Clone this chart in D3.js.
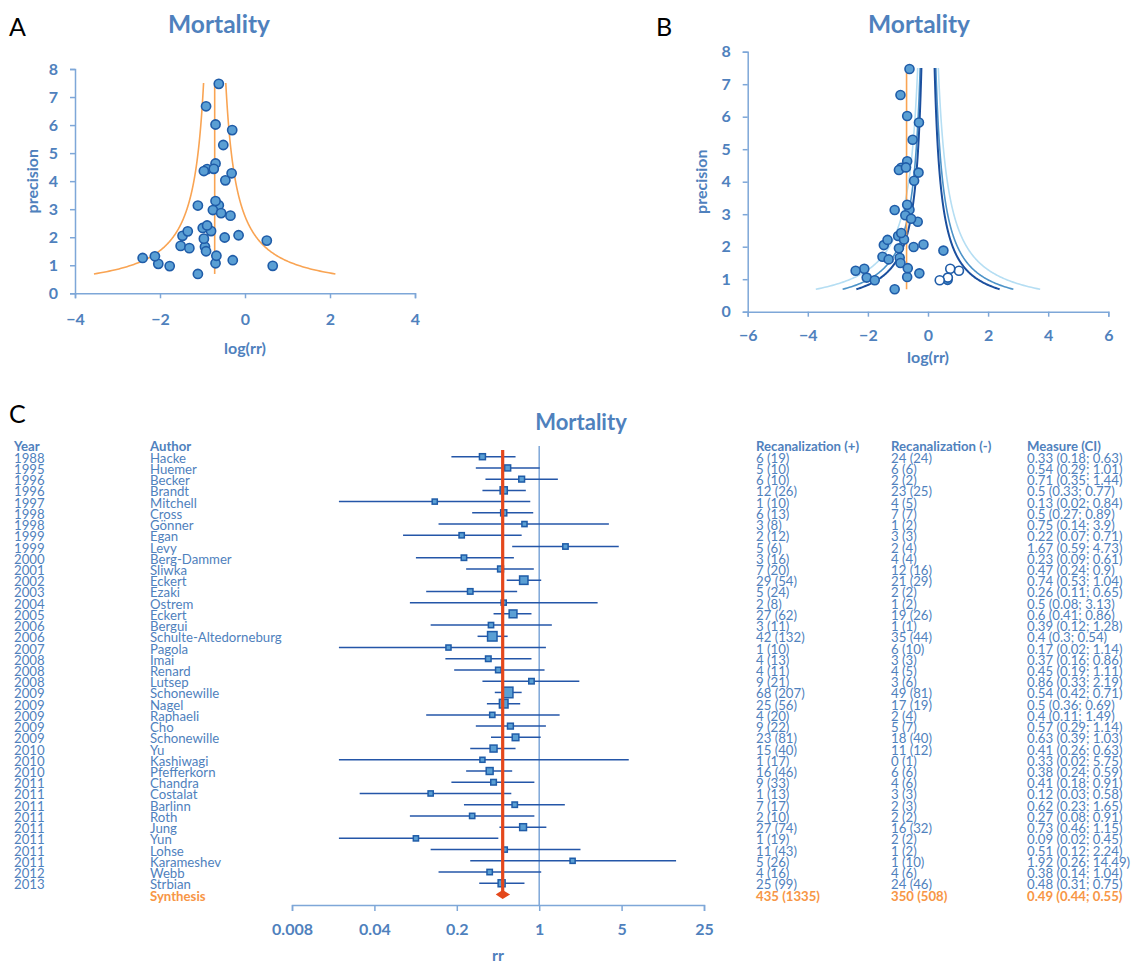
<!DOCTYPE html>
<html>
<head>
<meta charset="utf-8">
<title>Mortality</title>
<script src="https://d3js.org/d3.v7.min.js"></script>
<style>
    body { margin: 0; background: #fff; }
    text { font-family: Lato, "Open Sans", sans-serif; }
</style>
</head>
<body>
<svg id="chart" width="1131" height="964"></svg>
<script>
    // ---- data (forest plot rows, oldest first) ----
    var years = [1988, 1995, 1996, 1996, 1997, 1998, 1998, 1999, 1999, 2000, 2001, 2002, 2003, 2004, 2005, 2006, 2006,
        2007, 2008, 2008, 2008, 2009, 2009, 2009, 2009, 2009, 2010, 2010, 2010, 2011, 2011, 2011, 2011, 2011, 2011,
        2011, 2011, 2012, 2013];
    var authors = ["Hacke", "Huemer", "Becker", "Brandt", "Mitchell", "Cross", "Gönner", "Egan", "Levy", "Berg-Dammer",
        "Sliwka", "Eckert", "Ezaki", "Ostrem", "Eckert", "Bergui", "Schulte-Altedorneburg", "Pagola", "Imai", "Renard",
        "Lutsep", "Schonewille", "Nagel", "Raphaeli", "Cho", "Schonewille", "Yu", "Kashiwagi", "Pfefferkorn", "Chandra",
        "Costalat", "Barlinn", "Roth", "Jung", "Yun", "Lohse", "Karameshev", "Webb", "Strbian"];
    var posEvents = [6, 5, 6, 12, 1, 6, 3, 2, 5, 3, 7, 29, 5, 2, 27, 3, 42, 1, 4, 4, 9, 68, 25, 4, 9, 23, 15, 1, 16, 9, 1, 7, 2, 27, 1, 11, 5, 4, 25];
    var posTotal = [19, 10, 10, 26, 10, 13, 8, 12, 6, 16, 20, 54, 24, 8, 62, 11, 132, 10, 13, 11, 21, 207, 56, 20, 22, 81, 40, 17, 46, 33, 13, 17, 10, 74, 19, 43, 26, 16, 99];
    var negEvents = [24, 6, 2, 23, 4, 7, 1, 3, 2, 4, 12, 21, 2, 1, 19, 1, 35, 6, 3, 4, 3, 49, 17, 2, 5, 18, 11, 0, 6, 4, 3, 2, 2, 16, 2, 1, 1, 4, 24];
    var negTotal = [24, 6, 2, 25, 5, 7, 2, 3, 4, 4, 16, 29, 2, 2, 26, 1, 44, 10, 3, 5, 6, 81, 19, 4, 7, 40, 12, 1, 6, 6, 3, 3, 2, 32, 2, 2, 10, 6, 46];
    var rr = [0.33, 0.54, 0.71, 0.5, 0.13, 0.5, 0.75, 0.22, 1.67, 0.23, 0.47, 0.74, 0.26, 0.5, 0.6, 0.39, 0.4, 0.17, 0.37, 0.45,
        0.86, 0.54, 0.5, 0.4, 0.57, 0.63, 0.41, 0.33, 0.38, 0.41, 0.12, 0.62, 0.27, 0.73, 0.09, 0.51, 1.92, 0.38, 0.48];
    var rrLow = [0.18, 0.29, 0.35, 0.33, 0.02, 0.27, 0.14, 0.07, 0.59, 0.09, 0.24, 0.53, 0.11, 0.08, 0.41, 0.12, 0.3, 0.02, 0.16, 0.19,
        0.33, 0.42, 0.36, 0.11, 0.29, 0.39, 0.26, 0.02, 0.24, 0.18, 0.03, 0.23, 0.08, 0.46, 0.02, 0.12, 0.26, 0.14, 0.31];
    var rrHigh = [0.63, 1.01, 1.44, 0.77, 0.84, 0.89, 3.9, 0.71, 4.73, 0.61, 0.9, 1.04, 0.65, 3.13, 0.86, 1.28, 0.54, 1.14, 0.86, 1.11,
        2.19, 0.71, 0.69, 1.49, 1.14, 1.03, 0.63, 5.75, 0.59, 0.91, 0.58, 1.65, 0.91, 1.15, 0.45, 2.24, 14.49, 1.04, 0.75];
    // precision (1/SE of log rr), also used as study weight
    var precision = [3.13, 3.14, 2.77, 4.63, 1.05, 3.29, 1.18, 1.69, 1.88, 2.05, 2.97, 5.82, 2.21, 1.07, 5.29, 1.66, 6.67, 0.97,
        2.33, 2.22, 2.07, 7.47, 6.02, 1.50, 2.86, 4.03, 4.43, 0.69, 4.36, 2.42, 1.32, 1.99, 1.61, 4.28, 1.26, 1.34, 0.98, 1.95, 4.44];

    // synthesis
    var synthRR = 0.49, synthLow = 0.44, synthHigh = 0.55;
    var synthPos = "435 (1335)", synthNeg = "350 (508)";

    // trim and fill: imputed studies (panel B open circles)
    var filledLogRR = [1.03, 0.74, 0.66, 0.39];
    var filledPrecision = [1.26, 1.32, 1.05, 0.97];

    // funnel contours for panel B (z values: 99%, 95%, 90%)
    var contourZ = [2.576, 1.96, 1.645];
    var contourColor = ["#b5def3", "#4d93c8", "#1b4f9e"];

    var xTicksA = [-4, -2, 0, 2, 4];
    var xTicksB = [-6, -4, -2, 0, 2, 4, 6];
    var yTicks = [0, 1, 2, 3, 4, 5, 6, 7, 8];
    var rrTicks = [0.008, 0.04, 0.2, 1, 5, 25];

    var blue = "#4f81bd", axisBlue = "#7ea7d8", dotFill = "#5a9fd4", dotStroke = "#1f5ca8", orange = "#f79646";

    var svg = d3.select("#chart");

    function styleAxis(g) {
        g.select(".domain").attr("stroke", axisBlue).attr("stroke-width", 1.5);
        g.selectAll(".tick line").attr("stroke", axisBlue).attr("stroke-width", 1.5);
        g.selectAll(".tick text").attr("fill", blue).attr("font-size", "16px").attr("font-weight", "bold")
            .attr("font-family", "Lato, sans-serif");
    }

    function panelLetter(txt, x, y) {
        svg.append("text").attr("x", x).attr("y", y).attr("font-size", "25px").attr("fill", "#000").text(txt);
    }

    function title(x, y, size) {
        svg.append("text").attr("x", x).attr("y", y).attr("text-anchor", "middle").attr("font-size", size)
            .attr("font-weight", "bold").attr("fill", blue).text("Mortality");
    }

    function funnelPlot(xScale, yScale, xTicks, xLabelY, yLabelX, labelPad) {
        var gx = svg.append("g").attr("transform", "translate(0," + yScale(0) + ")")
            .call(d3.axisBottom(xScale).tickValues(xTicks).tickSizeOuter(0).tickSize(5).tickPadding(labelPad[0]));
        styleAxis(gx);
        var gy = svg.append("g").attr("transform", "translate(" + xScale.range()[0] + ",0)")
            .call(d3.axisLeft(yScale).tickValues(yTicks).tickSizeOuter(0).tickSize(5).tickPadding(labelPad[1]));
        styleAxis(gy);

        svg.append("text").attr("x", d3.mean(xScale.range())).attr("y", xLabelY).attr("text-anchor", "middle")
            .attr("font-size", "16px").attr("font-weight", "bold").attr("fill", blue).text("log(rr)");
        var cy = d3.mean(yScale.range());
        svg.append("text").attr("transform", "translate(" + yLabelX + "," + cy + ") rotate(-90)")
            .attr("text-anchor", "middle").attr("font-size", "16px").attr("font-weight", "bold")
            .attr("fill", blue).text("precision");
    }

    function dots(xScale, yScale, r) {
        svg.append("g").selectAll("circle").data(rr).enter().append("circle")
            .attr("cx", function (d) { return xScale(Math.log(d)); })
            .attr("cy", function (d, i) { return yScale(precision[i]); })
            .attr("r", r)
            .attr("fill", dotFill).attr("stroke", dotStroke).attr("stroke-width", 1.6);
    }

    var precRange = d3.extent(precision);
    var precSteps = d3.range(precRange[0], 7.5, 0.02).concat([7.5]);
    var center = Math.log(synthRR);

    // ---------------- Panel A ----------------
    var xA = d3.scaleLinear().domain([-4, 4]).range([75, 415]);
    var yA = d3.scaleLinear().domain([0, 8]).range([293.3, 69]);
    panelLetter("A", 9, 36);
    title(219, 33, "24.5px");
    funnelPlot(xA, yA, xTicksA, 354, 38, [15, 12]);

    [-1, 1].forEach(function (s) {
        svg.append("path").datum(precSteps)
            .attr("d", d3.line()
                .x(function (p) { return xA(center + s * 1.96 / p); })
                .y(function (p) { return yA(p); }))
            .attr("fill", "none").attr("stroke", "#f9a453").attr("stroke-width", 1.6);
    });
    svg.append("line").attr("x1", xA(center)).attr("x2", xA(center))
        .attr("y1", yA(precRange[0])).attr("y2", yA(7.5))
        .attr("stroke", "#f9a453").attr("stroke-width", 1.6);
    dots(xA, yA, 4.6);

    // ---------------- Panel B ----------------
    var xB = d3.scaleLinear().domain([-6, 6]).range([747.7, 1108.3]);
    var yB = d3.scaleLinear().domain([0, 8]).range([311.7, 51.7]);
    panelLetter("B", 656, 36);
    title(919, 33, "24.5px");
    funnelPlot(xB, yB, xTicksB, 363, 707, [13, 12]);

    contourZ.forEach(function (z, k) {
        [-1, 1].forEach(function (s) {
            svg.append("path").datum(precSteps)
                .attr("d", d3.line()
                    .x(function (p) { return xB(s * z / p); })
                    .y(function (p) { return yB(p); }))
                .attr("fill", "none").attr("stroke", contourColor[k]).attr("stroke-width", k == 2 ? 2 : 1.6);
        });
    });
    svg.append("line").attr("x1", xB(center)).attr("x2", xB(center))
        .attr("y1", yB(precRange[0])).attr("y2", yB(7.5))
        .attr("stroke", "#f9a453").attr("stroke-width", 1.6);
    dots(xB, yB, 4.5);
    svg.append("g").selectAll("circle").data(filledLogRR).enter().append("circle")
        .attr("cx", function (d) { return xB(d); })
        .attr("cy", function (d, i) { return yB(filledPrecision[i]); })
        .attr("r", 4.5)
        .attr("fill", "#fff").attr("stroke", dotStroke).attr("stroke-width", 1.6);

    // ---------------- Panel C (forest) ----------------
    panelLetter("C", 9, 423);
    title(581, 430, "22px");

    var xC = d3.scaleLog().base(5).domain([0.008, 25]).range([292, 704]);
    var nRows = rr.length;
    var yC = d3.scaleLinear().domain([0, nRows]).range([456.7, 894.5]);
    var boxSize = d3.scaleLinear().domain([0, 56]).range([5, 10.6]);

    var gAxis = svg.append("g").attr("transform", "translate(0,905)")
        .call(d3.axisBottom(xC).tickValues(rrTicks).tickFormat(function (d) { return String(d); })
            .tickSizeOuter(0).tickSize(6).tickPadding(13));
    styleAxis(gAxis);
    svg.append("text").attr("x", d3.mean(xC.range())).attr("y", 961).attr("text-anchor", "middle")
        .attr("font-size", "16px").attr("font-weight", "bold").attr("fill", blue).text("rr");

    // no-effect line
    svg.append("line").attr("x1", xC(1)).attr("x2", xC(1)).attr("y1", 446).attr("y2", 905)
        .attr("stroke", axisBlue).attr("stroke-width", 1.5);

    // confidence intervals
    var rows = svg.append("g");
    rows.selectAll("line.ci").data(rr).enter().append("line").attr("class", "ci")
        .attr("x1", function (d, i) { return xC(rrLow[i]); })
        .attr("x2", function (d, i) { return xC(rrHigh[i]); })
        .attr("y1", function (d, i) { return yC(i); })
        .attr("y2", function (d, i) { return yC(i); })
        .attr("stroke", "#2456a8").attr("stroke-width", 1.5);

    // pooled estimate line
    svg.append("line").attr("x1", xC(synthRR)).attr("x2", xC(synthRR)).attr("y1", 450).attr("y2", yC(nRows))
        .attr("stroke", "#e4481c").attr("stroke-width", 3.2);

    // study boxes
    rows.selectAll("rect.box").data(rr).enter().append("rect").attr("class", "box")
        .attr("x", function (d, i) { return xC(d) - boxSize(precision[i] * precision[i]) / 2; })
        .attr("y", function (d, i) { return yC(i) - boxSize(precision[i] * precision[i]) / 2; })
        .attr("width", function (d, i) { return boxSize(precision[i] * precision[i]); })
        .attr("height", function (d, i) { return boxSize(precision[i] * precision[i]); })
        .attr("fill", dotFill).attr("stroke", dotStroke).attr("stroke-width", 1.5);

    // synthesis diamond
    var ys = yC(nRows);
    svg.append("path")
        .attr("d", "M" + xC(synthLow) + "," + ys + "L" + xC(synthRR) + "," + (ys - 3.5) + "L" + xC(synthHigh) + "," + ys +
            "L" + xC(synthRR) + "," + (ys + 3.5) + "Z")
        .attr("fill", "#e4481c").attr("stroke", "#e4481c").attr("stroke-width", 1.5);

    // table text
    var colX = [14, 150, 756, 891, 1027];
    var headers = ["Year", "Author", "Recanalization (+)", "Recanalization (-)", "Measure (CI)"];
    var fontSize = "13.2px";
    headers.forEach(function (h, j) {
        svg.append("text").attr("x", colX[j]).attr("y", yC(-1) + 6).attr("font-size", fontSize)
            .attr("font-weight", "bold").attr("fill", blue).text(h);
    });
    var cells = [
        function (i) { return String(years[i]); },
        function (i) { return authors[i]; },
        function (i) { return posEvents[i] + " (" + posTotal[i] + ")"; },
        function (i) { return negEvents[i] + " (" + negTotal[i] + ")"; },
        function (i) { return rr[i] + " (" + rrLow[i] + "; " + rrHigh[i] + ")"; }
    ];
    cells.forEach(function (f, j) {
        svg.append("g").selectAll("text").data(rr).enter().append("text")
            .attr("x", colX[j]).attr("y", function (d, i) { return yC(i) + 6; })
            .attr("font-size", fontSize).attr("fill", blue)
            .text(function (d, i) { return f(i); });
    });
    var synthCells = ["", "Synthesis", synthPos, synthNeg, synthRR + " (" + synthLow + "; " + synthHigh + ")"];
    synthCells.forEach(function (t, j) {
        svg.append("text").attr("x", colX[j]).attr("y", yC(nRows) + 6).attr("font-size", fontSize)
            .attr("font-weight", "bold").attr("fill", orange).text(t);
    });
</script>
</body>
</html>
